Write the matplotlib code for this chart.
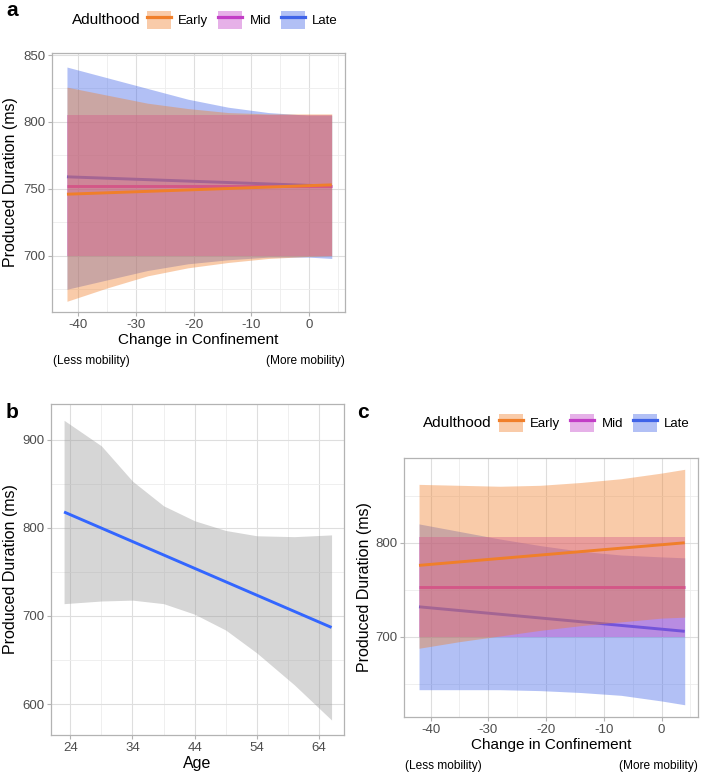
import matplotlib.pyplot as plt
from matplotlib.patches import Patch
from matplotlib.lines import Line2D
from matplotlib.ticker import MultipleLocator

plt.rcParams['font.family'] = ['Liberation Sans', 'DejaVu Sans']
plt.rcParams['axes.unicode_minus'] = False

# panel a / c: change in confinement
conf_x = [-42, -35, -28, -21, -14, -7, 0, 4]
line_x = [-42, 4]

early_lo_a = [666, 676, 685, 691, 695, 698, 699.5, 700]
early_hi_a = [826, 820, 814, 810, 807, 806, 806, 806]
mid_lo_a = [700, 700, 700, 700, 700, 700, 700, 700]
mid_hi_a = [805, 805, 805, 805, 805, 805, 805, 805]
late_lo_a = [675, 682, 689, 694, 697, 699, 699, 698]
late_hi_a = [841, 833, 825, 817, 811, 807, 805, 805]
early_a = [746, 753]
mid_a = [752, 752]
late_a = [759, 752]

early_lo_c = [688, 695, 701, 707, 712, 716, 720, 721]
early_hi_c = [862, 861, 860, 861, 864, 868, 874, 878]
mid_lo_c = [700, 700, 700, 700, 700, 700, 700, 700]
mid_hi_c = [806, 806, 806, 806, 806, 806, 806, 806]
late_lo_c = [644, 644, 644, 643, 641, 638, 632, 628]
late_hi_c = [820, 812, 804, 797, 791, 787, 785, 784]
early_c = [776, 800]
mid_c = [753, 753]
late_c = [732, 706]

# panel b: age
age_x = [23, 29, 34, 39, 44, 49, 54, 60, 66]
age_lo = [714, 717, 718, 714, 702, 684, 658, 622, 582]
age_hi = [922, 893, 853, 825, 808, 797, 791, 790, 792]
age_line_x = [23, 66]
age_line = [818, 687]

groups = ['Early', 'Mid', 'Late']
colors = {'Early': '#F07F2A', 'Mid': '#C23EC6', 'Late': '#3F63E8'}
ALPHA = 0.4

W, H = 710, 774
fig = plt.figure(figsize=(W / 100, H / 100), dpi=100)


def style_axes(ax):
    ax.set_facecolor('white')
    for s in ax.spines.values():
        s.set_color('#B3B3B3')
        s.set_linewidth(0.9)
    ax.grid(which='major', color='#DEDEDE', lw=0.8)
    ax.grid(which='minor', color='#EDEDED', lw=0.6)
    ax.set_axisbelow(True)
    ax.tick_params(which='major', length=3, color='#B3B3B3', labelsize=9.5,
                   labelcolor='#4D4D4D', pad=2)
    ax.tick_params(which='minor', length=0)


def px_axes(left, top, right, bottom):
    return fig.add_axes([left / W, 1 - bottom / H, (right - left) / W, (bottom - top) / H])


def conf_panel(ax, data, ylim, ymaj, ymin, ylab_x):
    # ribbon then line per group, last group on top (like geom_smooth)
    for i, g in enumerate(['Late', 'Mid', 'Early']):
        lo, hi, ln = data[g]
        ax.fill_between(conf_x, lo, hi, color=colors[g], alpha=ALPHA, lw=0,
                        zorder=2 + 2 * i)
        ax.plot(line_x, ln, color=colors[g], lw=2.1, solid_capstyle='butt',
                zorder=3 + 2 * i)
    ax.set_xlim(-44.6, 6.3)
    ax.set_ylim(*ylim)
    ax.xaxis.set_major_locator(MultipleLocator(10))
    ax.xaxis.set_minor_locator(MultipleLocator(5))
    ax.yaxis.set_major_locator(MultipleLocator(ymaj))
    ax.yaxis.set_minor_locator(MultipleLocator(ymin))
    style_axes(ax)
    ax.set_xlabel('Change in Confinement', fontsize=11)
    ax.set_ylabel('Produced Duration (ms)', fontsize=11.5)
    ax.xaxis.set_label_coords(0.5, -0.08)
    ax.yaxis.set_label_coords(ylab_x, 0.5)
    ax.text(0.003, -0.188, '(Less mobility)', transform=ax.transAxes,
            ha='left', va='center', fontsize=8.6)
    ax.text(1.0, -0.188, '(More mobility)', transform=ax.transAxes,
            ha='right', va='center', fontsize=8.6)


def add_legend(x_title, x_keys, y_center):
    fig.text(x_title / W, 1 - y_center / H, 'Adulthood', fontsize=11,
             ha='left', va='center')
    handles = [(Patch(facecolor=colors[g], alpha=ALPHA, lw=0),
                Line2D([], [], color=colors[g], lw=2.3)) for g in groups]
    fig.legend(handles, groups, ncol=3, loc='center left',
               bbox_to_anchor=(x_keys / W, 1 - y_center / H), frameon=False,
               fontsize=9.5, handlelength=1.82, handleheight=1.82,
               handletextpad=0.55, columnspacing=0.75, borderpad=0,
               borderaxespad=0)


# panel a
ax_a = px_axes(52, 53, 345, 312)
conf_panel(ax_a, {'Early': (early_lo_a, early_hi_a, early_a),
                  'Mid': (mid_lo_a, mid_hi_a, mid_a),
                  'Late': (late_lo_a, late_hi_a, late_a)},
           (658, 851.5), 50, 25, -0.115)
add_legend(72, 147, 20)

# panel b
ax_b = px_axes(51, 404, 344, 735)
ax_b.fill_between(age_x, age_lo, age_hi, color='#999999', alpha=0.4, lw=0)
ax_b.plot(age_line_x, age_line, color='#3366FF', lw=2.1, solid_capstyle='butt')
ax_b.set_xlim(20.9, 68)
ax_b.set_ylim(565, 940.5)
ax_b.set_xticks([24, 34, 44, 54, 64])
ax_b.set_xticks([29, 39, 49, 59], minor=True)
ax_b.yaxis.set_major_locator(MultipleLocator(100))
ax_b.yaxis.set_minor_locator(MultipleLocator(50))
style_axes(ax_b)
ax_b.set_xlabel('Age', fontsize=11.5)
ax_b.set_ylabel('Produced Duration (ms)', fontsize=11.5)
ax_b.xaxis.set_label_coords(0.5, -0.062)
ax_b.yaxis.set_label_coords(-0.113, 0.5)

# panel c
ax_c = px_axes(404, 458, 698, 717)
conf_panel(ax_c, {'Early': (early_lo_c, early_hi_c, early_c),
                  'Mid': (mid_lo_c, mid_hi_c, mid_c),
                  'Late': (late_lo_c, late_hi_c, late_c)},
           (615, 890), 100, 50, -0.109)
add_legend(423, 499, 423)

# panel letters
for lab, x, y in [('a', 6, 10), ('b', 6, 412), ('c', 357, 413)]:
    fig.text(x / W, 1 - y / H, lab, fontsize=15, fontweight='bold',
             ha='left', va='center')

fig.savefig('out.png', dpi=100, facecolor='white')
